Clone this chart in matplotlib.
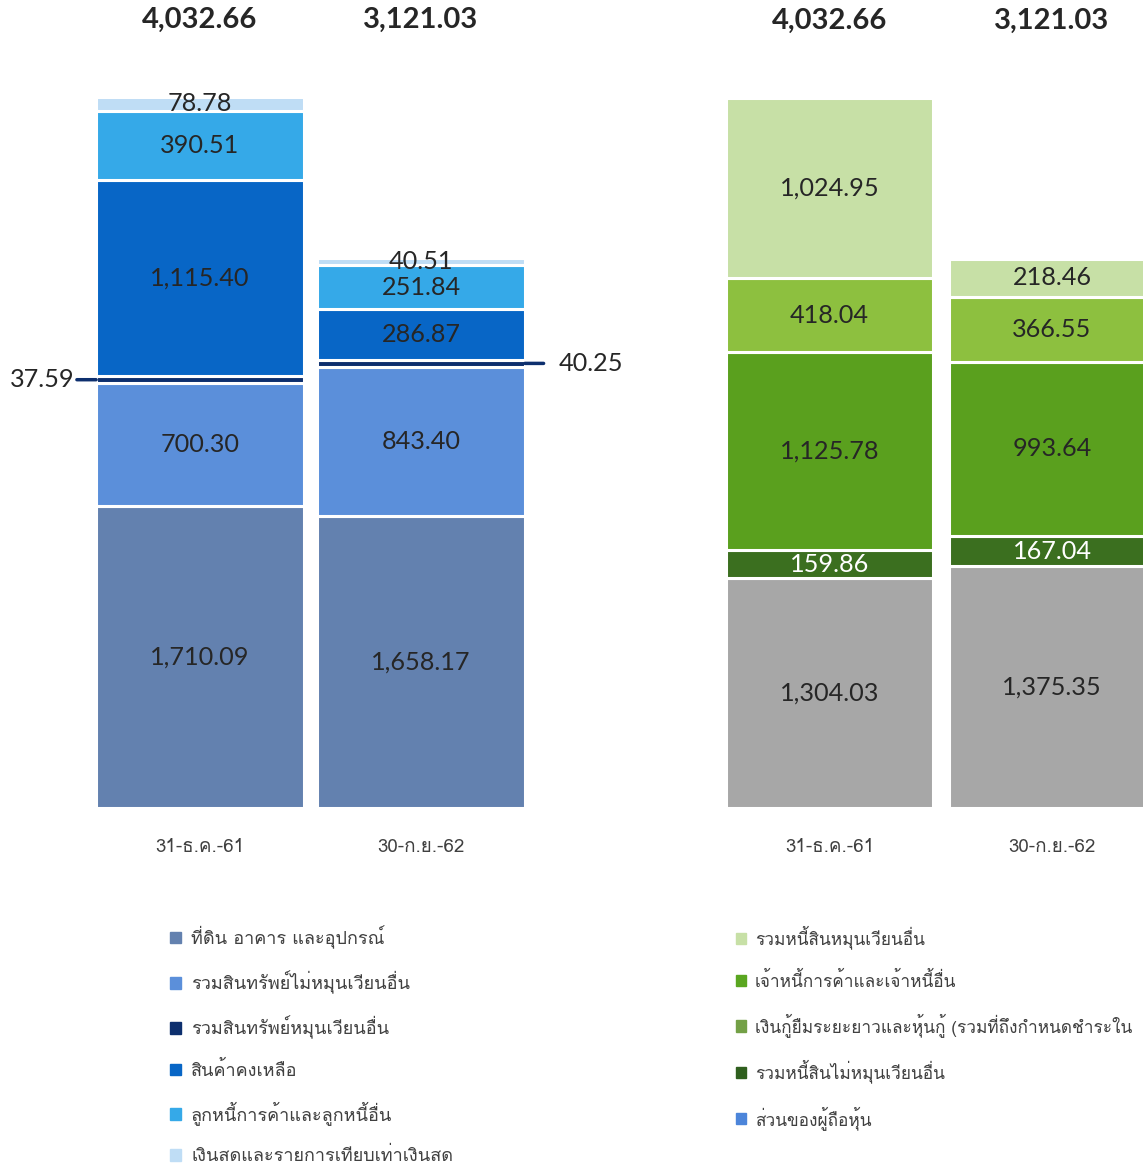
import matplotlib
matplotlib.use('Agg')
from matplotlib import pyplot as plt
from matplotlib import font_manager
from matplotlib.ft2font import FT2Font
from matplotlib.patches import Patch

# ---- data -------------------------------------------------------------
dates = ['31-ธ.ค.-61', '30-ก.ย.-62']
totals = [4032.66, 3121.03]

# assets, bottom to top
ppe = [1710.09, 1658.17]
other_noncurrent_assets = [700.30, 843.40]
other_current_assets = [37.59, 40.25]
inventories = [1115.40, 286.87]
receivables = [390.51, 251.84]
cash = [78.78, 40.51]

# liabilities and equity, bottom to top
equity = [1304.03, 1375.35]
other_noncurrent_liab = [159.86, 167.04]
payables = [1125.78, 993.64]
long_term_loans = [418.04, 366.55]
other_current_liab = [1024.95, 218.46]

asset_names = ['ที่ดิน อาคาร และอุปกรณ์', 'รวมสินทรัพย์ไม่หมุนเวียนอื่น',
               'รวมสินทรัพย์หมุนเวียนอื่น', 'สินค้าคงเหลือ',
               'ลูกหนี้การค้าและลูกหนี้อื่น', 'เงินสดและรายการเทียบเท่าเงินสด']
liab_names = ['รวมหนี้สินหมุนเวียนอื่น', 'เจ้าหนี้การค้าและเจ้าหนี้อื่น',
              'เงินกู้ยืมระยะยาวและหุ้นกู้ (รวมที่ถึงกำหนดชำระใน',
              'รวมหนี้สินไม่หมุนเวียนอื่น', 'ส่วนของผู้ถือหุ้น']

asset_colors = ['#6381AF', '#5B8FDA', '#0D2F6E', '#0866C6', '#35A9E8', '#BFDDF5']
liab_colors = ['#A7A7A7', '#3B6F1F', '#5AA01E', '#8DC03F', '#C7E0A6']
liab_legend_colors = ['#C7E0A6', '#5AA620', '#73A046', '#2F5F1E', '#4C85DA']


def find_thai_font():
    for f in font_manager.fontManager.ttflist:
        try:
            if ord('ก') in FT2Font(f.fname).get_charmap():
                return f.name
        except Exception:
            pass
    return 'DejaVu Sans'


THAI = [find_thai_font(), 'DejaVu Sans']
NUM = ['Lato', 'DejaVu Sans']

W, H = 1143, 1171
fig = plt.figure(figsize=(W / 100, H / 100), dpi=100)
fig.patch.set_facecolor('white')


def make_axes(x0, x1, c0, step, y_top, y_bot, ymax):
    ax = fig.add_axes([x0 / W, 1 - y_bot / H, (x1 - x0) / W, (y_bot - y_top) / H])
    ax.set_xlim((x0 - c0) / step, (x1 - c0) / step)
    ax.set_ylim(0, ymax)
    for s in ax.spines.values():
        s.set_visible(False)
    ax.set_yticks([])
    ax.set_xticks([0, 1])
    ax.set_xticklabels(dates, family=THAI, fontsize=13.5, color='#404040')
    ax.tick_params(axis='x', length=0, pad=21.5)
    return ax


def draw_stack(ax, series, colors, width, skip=(), white=()):
    x = [0, 1]
    bottom = [0, 0]
    mids = []
    for k, (vals, col) in enumerate(zip(series, colors)):
        ax.bar(x, vals, width, bottom=bottom, color=col, edgecolor='white', linewidth=2.2)
        mids.append([b + v / 2 for b, v in zip(bottom, vals)])
        if k not in skip:
            for i in x:
                ax.text(i, bottom[i] + vals[i] / 2, f'{vals[i]:,.2f}', ha='center', va='center',
                        family=NUM, fontsize=18.2, color='white' if k in white else '#262626')
        bottom = [b + v for b, v in zip(bottom, vals)]
    for i in x:
        ax.text(i, 1.108, f'{totals[i]:,.2f}', transform=ax.get_xaxis_transform(),
                ha='center', va='center', family=NUM, fontsize=21, fontweight='bold', color='#262626')
    return mids


assets = [ppe, other_noncurrent_assets, other_current_assets, inventories, receivables, cash]
ymax = max(sum(v[i] for v in assets) for i in range(2))

ax1 = make_axes(60, 560, 200, 221, 97, 808, ymax)
mids = draw_stack(ax1, assets, asset_colors, 0.94, skip=(2,))
ax1.annotate(f'{other_current_assets[0]:.2f}', xy=(-0.47, mids[2][0]), xytext=(-22, 0),
             textcoords='offset pixels', ha='right', va='center', family=NUM, fontsize=18.2,
             color='#262626', arrowprops=dict(arrowstyle='-', color='#0D2F6E', lw=2.5, shrinkA=0, shrinkB=0))
ax1.annotate(f'{other_current_assets[1]:.2f}', xy=(1.47, mids[2][1]), xytext=(34, 0),
             textcoords='offset pixels', ha='left', va='center', family=NUM, fontsize=18.2,
             color='#262626', arrowprops=dict(arrowstyle='-', color='#0D2F6E', lw=2.5, shrinkA=9, shrinkB=0))

liabs = [equity, other_noncurrent_liab, payables, long_term_loans, other_current_liab]
ax2 = make_axes(700, 1200, 829.5, 222.5, 98, 808, ymax)
draw_stack(ax2, liabs, liab_colors, 0.93, white=(1,))

# legends
h1 = [Patch(color=c) for c in asset_colors]
fig.legend(h1, asset_names, loc='upper left', bbox_to_anchor=(154 / W, 1 - 909 / H),
           frameon=False, prop={'family': THAI, 'size': 13}, handlelength=0.6, handleheight=0.6,
           handletextpad=0.55, labelspacing=1.2, labelcolor='#404040')
h2 = [Patch(color=c) for c in liab_legend_colors]
fig.legend(h2, liab_names, loc='upper left', bbox_to_anchor=(720 / W, 1 - 910 / H),
           frameon=False, prop={'family': THAI, 'size': 12.4}, handlelength=0.63, handleheight=0.63,
           handletextpad=0.5, labelspacing=1.3, labelcolor='#404040')

fig.savefig('out.png', dpi=100, facecolor='white')
